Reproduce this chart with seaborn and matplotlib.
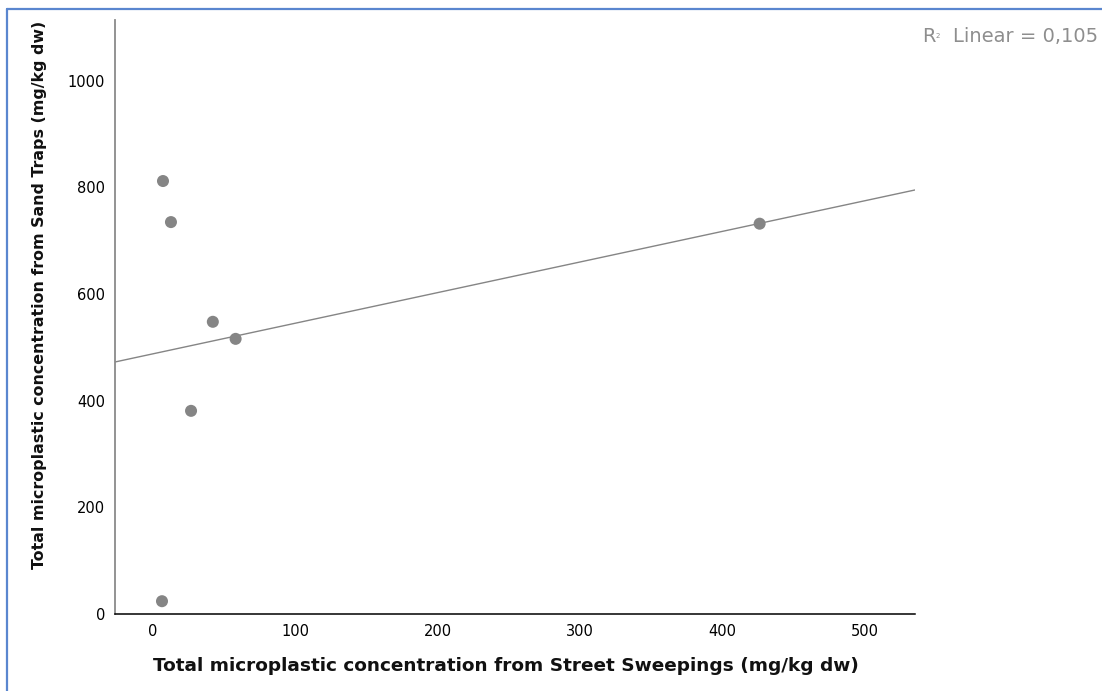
import numpy as np
import pandas as pd
import matplotlib
matplotlib.use("Agg")
import matplotlib.pyplot as plt
from matplotlib.lines import Line2D
import seaborn as sns

# Microplastic concentrations (mg/kg dw) per site
street_sweepings = [7.0, 12.6, 42.0, 58.0, 26.7, 6.3, 426.0]
sand_traps = [812, 735, 548, 516, 381, 24, 732]

x_ticks = [0, 100, 200, 300, 400, 500]
y_ticks = [0, 200, 400, 600, 800, 1000]

x_label = "Total microplastic concentration from Street Sweepings (mg/kg dw)"
y_label = "Total microplastic concentration from Sand Traps (mg/kg dw)"

sns.set_style("white")
plt.rcParams["font.family"] = ["DejaVu Sans"]

W, H = 1102, 691
fig = plt.figure(figsize=(W / 100, H / 100), dpi=100)
ax = fig.add_axes([115 / W, (H - 614) / H, 800 / W, 594 / H])
ax.set_xlim(-26.7, 535.1)
ax.set_ylim(0, 1114)

df = pd.DataFrame({"street": street_sweepings, "sand": sand_traps})
grey = "#858585"
sns.regplot(
    data=df, x="street", y="sand", ax=ax, ci=None, truncate=False,
    scatter_kws=dict(s=75, color=grey, edgecolor="none", linewidths=0, alpha=1),
    line_kws=dict(color=grey, lw=1.0),
)
ax.set_xlim(-26.7, 535.1)
ax.set_ylim(0, 1114)

ax.set_xticks(x_ticks)
ax.set_yticks(y_ticks)
ax.tick_params(axis="both", length=0, labelsize=10.5, colors="black", pad=7)
ax.set_xlabel(x_label, fontsize=13.3, fontweight="bold", color="#111111")
ax.set_ylabel(y_label, fontsize=11.4, fontweight="bold", color="#111111")
ax.xaxis.set_label_coords(0.489, -0.073)
ax.yaxis.set_label_coords(-0.085, 0.537)

for side in ("top", "right"):
    ax.spines[side].set_visible(False)
ax.spines["left"].set_color("#8a8a8a")
ax.spines["left"].set_linewidth(1.3)
ax.spines["bottom"].set_color("black")
ax.spines["bottom"].set_linewidth(1.1)

# Goodness of fit of the linear regression
r = np.corrcoef(street_sweepings, sand_traps)[0, 1]
r2_text = f"{r ** 2:.3f}".replace(".", ",")
txt_col = "#8e8e8e"
fig.text(922 / W, 1 - 37 / H, "R", fontsize=14, color=txt_col, va="center", ha="left")
fig.text(935.5 / W, 1 - 36 / H, "2", fontsize=5, color=txt_col, va="center", ha="left")
fig.text(1098 / W, 1 - 37 / H, f"Linear = {r2_text}", fontsize=14, color=txt_col,
         va="center", ha="right")

# Frame along the top and left edges
border = "#5a86cf"
fig.add_artist(Line2D([7 / W, 7 / W], [0, 1 - 9 / H], transform=fig.transFigure,
                      color=border, lw=1.6))
fig.add_artist(Line2D([7 / W, 1], [1 - 9 / H, 1 - 9 / H], transform=fig.transFigure,
                      color=border, lw=1.6))

fig.savefig("out.png", dpi=100, facecolor="white")
